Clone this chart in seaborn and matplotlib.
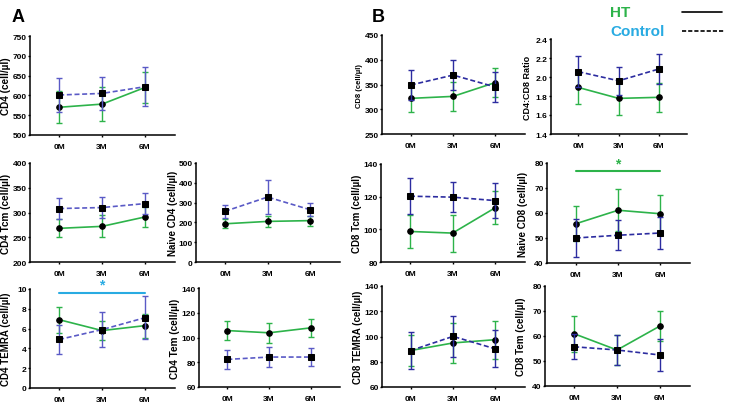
import numpy as np
import pandas as pd
import matplotlib
matplotlib.use("Agg")
import matplotlib.pyplot as plt
from matplotlib.lines import Line2D
import seaborn as sns

timepoints = ['0M', '3M', '6M']

# HT (solid, circles) / Control (dashed, squares): means and error bar half-widths
cd4_ht, cd4_ht_err = [570, 578, 620], [40, 43, 39]
cd4_ctrl, cd4_ctrl_err = [601, 605, 622], [43, 41, 49]

cd4tcm_ht, cd4tcm_ht_err = [268, 272, 291], [18, 22, 20]
cd4tcm_ctrl, cd4tcm_ctrl_err = [308, 310, 318], [21, 21, 22]

naivecd4_ht, naivecd4_ht_err = [193, 205, 209], [22, 27, 25]
naivecd4_ctrl, naivecd4_ctrl_err = [256, 328, 264], [33, 85, 33]

cd4temra_ht, cd4temra_ht_err = [6.9, 5.8, 6.3], [1.3, 1.0, 1.2]
cd4temra_ctrl, cd4temra_ctrl_err = [4.9, 5.9, 7.1], [1.5, 1.8, 2.2]

cd4tem_ht, cd4tem_ht_err = [105.6, 103.8, 107.8], [8, 8, 7.5]
cd4tem_ctrl, cd4tem_ctrl_err = [82.3, 84.2, 84.2], [8, 8, 7]

cd8_ht, cd8_ht_err = [322, 326, 354], [28, 30, 29]
cd8_ctrl, cd8_ctrl_err = [349, 369, 345], [30, 31, 30]

ratio_ht, ratio_ht_err = [1.89, 1.775, 1.786], [0.17, 0.18, 0.155]
ratio_ctrl, ratio_ctrl_err = [2.056, 1.96, 2.084], [0.16, 0.15, 0.16]

cd8tcm_ht, cd8tcm_ht_err = [98.7, 97.7, 113.2], [10, 11.3, 10]
cd8tcm_ctrl, cd8tcm_ctrl_err = [120.3, 119.7, 117.6], [11, 9.2, 10.6]

naivecd8_ht, naivecd8_ht_err = [55.7, 61.1, 59.7], [7, 8.4, 7.6]
naivecd8_ctrl, naivecd8_ctrl_err = [50.0, 51.1, 52.0], [7.6, 6, 6.3]

cd8temra_ht, cd8temra_ht_err = [88.9, 94.9, 97.5], [12.6, 15.7, 15]
cd8temra_ctrl, cd8temra_ctrl_err = [88.9, 100.1, 90.2], [15, 16, 14.6]

cd8tem_ht, cd8tem_ht_err = [60.9, 54.4, 64.0], [7.2, 6, 6]
cd8tem_ctrl, cd8tem_ctrl_err = [55.7, 54.4, 52.4], [5, 6, 6.3]

green = '#2db34a'
cyan = '#29abe2'
blue_a = '#5a5ac6'
blue_b = '#2c2ca0'

sns.set_style('ticks')
plt.rcParams['font.family'] = ['Liberation Sans', 'DejaVu Sans']
plt.rcParams['font.weight'] = 'bold'
for key in ('text.color', 'axes.labelcolor', 'xtick.color', 'ytick.color'):
    plt.rcParams[key] = 'black'

W, H = 730, 406
fig = plt.figure(figsize=(W / 100, H / 100), dpi=100)

# (label, ht, ht_err, ctrl, ctrl_err, ylim, ystep, fmt, box px [l, r, t, b], label size, ctrl colour)
panels = [
    ('CD4 (cell/µl)', cd4_ht, cd4_ht_err, cd4_ctrl, cd4_ctrl_err, (500, 750), 50, '{:.0f}', (30, 175, 37, 136), 7.2, blue_a),
    ('CD4 Tcm (cell/µl)', cd4tcm_ht, cd4tcm_ht_err, cd4tcm_ctrl, cd4tcm_ctrl_err, (200, 400), 50, '{:.0f}', (30, 175, 164, 263), 7.2, blue_a),
    ('Naive CD4 (cell/µl)', naivecd4_ht, naivecd4_ht_err, naivecd4_ctrl, naivecd4_ctrl_err, (0, 500), 100, '{:.0f}', (196, 340, 164, 263), 7, blue_a),
    ('CD4 TEMRA (cell/µl)', cd4temra_ht, cd4temra_ht_err, cd4temra_ctrl, cd4temra_ctrl_err, (0, 10), 2, '{:.0f}', (30, 175, 290, 389), 7, blue_a),
    ('CD4 Tem (cell/µl)', cd4tem_ht, cd4tem_ht_err, cd4tem_ctrl, cd4tem_ctrl_err, (60, 140), 20, '{:.0f}', (199, 340, 289, 388), 7.2, blue_a),
    ('CD8 (cell/µl)', cd8_ht, cd8_ht_err, cd8_ctrl, cd8_ctrl_err, (250, 450), 50, '{:.0f}', (382, 525, 36, 135), 5.5, blue_b),
    ('CD4:CD8 Ratio', ratio_ht, ratio_ht_err, ratio_ctrl, ratio_ctrl_err, (1.4, 2.4), 0.2, '{:.1f}', (551, 687, 40, 135), 6.5, blue_b),
    ('CD8 Tcm (cell/µl)', cd8tcm_ht, cd8tcm_ht_err, cd8tcm_ctrl, cd8tcm_ctrl_err, (80, 140), 20, '{:.0f}', (381, 525, 165, 263), 7, blue_b),
    ('Naive CD8 (cell/µl)', naivecd8_ht, naivecd8_ht_err, naivecd8_ctrl, naivecd8_ctrl_err, (40, 80), 10, '{:.0f}', (547, 690, 164, 264), 7, blue_b),
    ('CD8 TEMRA (cell/µl)', cd8temra_ht, cd8temra_ht_err, cd8temra_ctrl, cd8temra_ctrl_err, (60, 140), 20, '{:.0f}', (382, 525, 287, 388), 7, blue_b),
    ('CD8 Tem (cell/µl)', cd8tem_ht, cd8tem_ht_err, cd8tem_ctrl, cd8tem_ctrl_err, (40, 80), 10, '{:.0f}', (545, 690, 287, 387), 7, blue_b),
]

axes = {}
x = np.arange(len(timepoints))
for (label, ht, ht_err, ctrl, ctrl_err, ylim, step, fmt, box, lsize, ccol) in panels:
    l, r, t, b = box
    ax = fig.add_axes([l / W, 1 - b / H, (r - l) / W, (b - t) / H])
    axes[label] = ax

    ax.errorbar(x, ht, yerr=ht_err, fmt='none', ecolor=green, elinewidth=1,
                capsize=2.2, capthick=1, zorder=2)
    sns.lineplot(x=x, y=ht, color=green, linewidth=1.2, marker='o', markersize=4,
                 markerfacecolor='black', markeredgecolor='black', ax=ax, zorder=3)
    ax.errorbar(x, ctrl, yerr=ctrl_err, fmt='none', ecolor=ccol, elinewidth=1,
                capsize=2.2, capthick=1, zorder=4)
    sns.lineplot(x=x, y=ctrl, color=ccol, linewidth=1.2, linestyle=(0, (3, 1.6)),
                 marker='s', markersize=4.5, markerfacecolor='black',
                 markeredgecolor='black', ax=ax, zorder=5)

    ax.set_xlim(-0.68, 2.7)
    ax.set_ylim(*ylim)
    yt = np.arange(ylim[0], ylim[1] + step / 2, step)
    ax.set_yticks(yt)
    ax.set_yticklabels([fmt.format(v) for v in yt])
    ax.set_xticks(x)
    ax.set_xticklabels(timepoints)
    ax.tick_params(axis='both', labelsize=6, length=1.6, width=1, pad=0.8, color='black')
    for lab in ax.get_xticklabels() + ax.get_yticklabels():
        lab.set_fontweight('bold')
    ax.tick_params(axis='x', pad=4)
    ax.set_ylabel(label, fontsize=lsize, fontweight='bold')
    # right edge of the rotated label sits ~18 px left of the y axis
    ax.yaxis.set_label_coords(-18.5 / (r - l), 0.5)
    ax.set_xlabel('')
    sns.despine(ax=ax)
    for s in ('left', 'bottom'):
        ax.spines[s].set_linewidth(1.1)
        ax.spines[s].set_color('black')

# significance markers
ax = axes['CD4 TEMRA (cell/µl)']
ax.plot([0, 2], [9.6, 9.6], color=cyan, linewidth=1.5, clip_on=False)
ax.text(1, 9.75, '*', color=cyan, ha='center', va='bottom', fontsize=10, fontweight='bold')
ax = axes['Naive CD8 (cell/µl)']
ax.plot([0, 2], [76.7, 76.7], color=green, linewidth=1.5, clip_on=False)
ax.text(1, 76.9, '*', color=green, ha='center', va='bottom', fontsize=10, fontweight='bold')

# panel letters
fig.text(12 / W, 1 - 17 / H, 'A', fontsize=13, fontweight='bold', va='center')
fig.text(372 / W, 1 - 17 / H, 'B', fontsize=13, fontweight='bold', va='center')

# legend
fig.text(610 / W, 1 - 13 / H, 'HT', color=green, fontsize=11, fontweight='bold', va='center')
fig.text(610 / W, 1 - 32 / H, 'Control', color=cyan, fontsize=11, fontweight='bold', va='center')
fig.add_artist(Line2D([682 / W, 722 / W], [1 - 13 / H, 1 - 13 / H], color='black', linewidth=1.2))
fig.add_artist(Line2D([682 / W, 725 / W], [1 - 32 / H, 1 - 32 / H], color='black', linewidth=1.2,
                      linestyle=(0, (2.5, 1.2))))

fig.savefig('out.png', dpi=100)
